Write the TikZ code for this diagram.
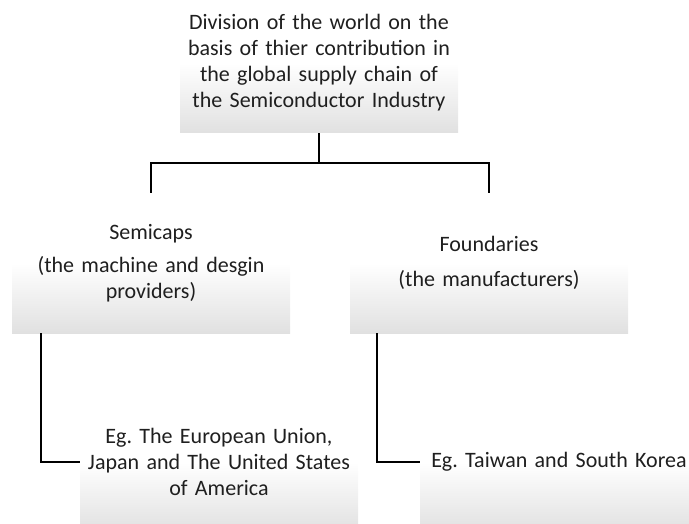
\documentclass[tikz,border=0pt]{standalone}
\usepackage{fontspec}
\setmainfont{Carlito}
\frenchspacing
\begin{document}
\begin{tikzpicture}[x=1pt,y=-1pt,
  box/.style={rectangle, minimum width=278pt, minimum height=140pt, inner sep=0pt,
    top color=white, bottom color=gray!24, middle color=white,
    text width=276pt, align=center, text=black!88,
    font=\fontsize{22pt}{26pt}\selectfont},
  conn/.style={draw=black, line width=1.6pt}]
\useasboundingbox (0,0) rectangle (689,524);
\node[box] (top) at (319,63) {Division of the world on the\\basis of thier contribution in\\the global supply chain of\\the Semiconductor Industry};
\node[box] (semi) at (151,263) {Semicaps\\[7pt](the machine and desgin\\providers)};
\node[box] (found) at (489,263) {Foundaries\\[9pt](the manufacturers)};
\node[box] (eu) at (219,462) {Eg. The European Union,\\Japan and The United States\\of America};
\node[box] (tw) at (559,462) {Eg. Taiwan and South Korea};
\coordinate (hy) at (0,163);
\draw[conn] (top.south) -- (top.south |- hy) -| (semi.north);
\draw[conn] (top.south |- hy) -| (found.north);
\draw[conn] ([xshift=-110pt]semi.south) |- (eu.west);
\draw[conn] ([xshift=-112pt]found.south) |- (tw.west);
\end{tikzpicture}
\end{document}
